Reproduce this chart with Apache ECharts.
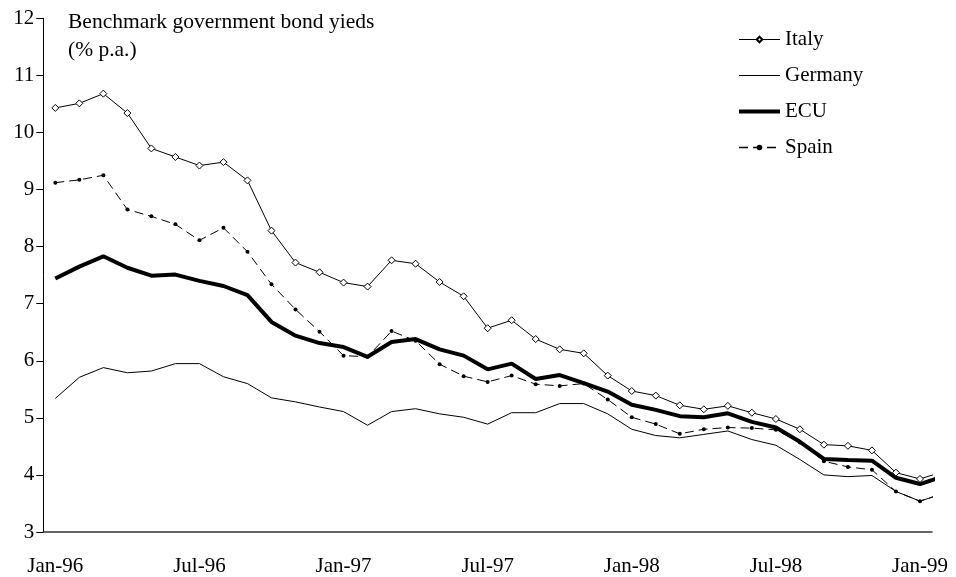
<!DOCTYPE html>
<html>
<head>
<meta charset="utf-8">
<script src="https://cdn.jsdelivr.net/npm/echarts@6/dist/echarts.min.js"></script>
<style>
html,body{margin:0;padding:0;background:#fff;}
#chart{width:956px;height:577px;}
</style>
</head>
<body>
<div id="chart"></div>
<script>
var months = ["Jan-96","Feb-96","Mar-96","Apr-96","May-96","Jun-96","Jul-96","Aug-96","Sep-96","Oct-96","Nov-96","Dec-96",
  "Jan-97","Feb-97","Mar-97","Apr-97","May-97","Jun-97","Jul-97","Aug-97","Sep-97","Oct-97","Nov-97","Dec-97",
  "Jan-98","Feb-98","Mar-98","Apr-98","May-98","Jun-98","Jul-98","Aug-98","Sep-98","Oct-98","Nov-98","Dec-98",
  "Jan-99","Feb-99"];
var italy = [10.43,10.51,10.68,10.34,9.72,9.57,9.42,9.48,9.16,8.28,7.72,7.55,
  7.37,7.30,7.76,7.70,7.38,7.13,6.57,6.71,6.38,6.20,6.13,5.74,
  5.47,5.39,5.22,5.15,5.21,5.09,4.98,4.80,4.53,4.51,4.43,4.04,
  3.93,4.06];
var germany = [5.34,5.71,5.88,5.79,5.82,5.95,5.95,5.72,5.60,5.35,5.28,5.19,
  5.11,4.87,5.11,5.16,5.07,5.01,4.89,5.09,5.09,5.25,5.25,5.07,
  4.80,4.69,4.65,4.71,4.77,4.62,4.52,4.27,4.00,3.97,3.99,3.71,
  3.54,3.68];
var ecu = [7.44,7.65,7.83,7.63,7.49,7.51,7.40,7.31,7.15,6.68,6.44,6.31,
  6.24,6.07,6.33,6.38,6.20,6.09,5.85,5.95,5.68,5.75,5.61,5.46,
  5.23,5.14,5.03,5.01,5.08,4.93,4.83,4.58,4.28,4.26,4.25,3.95,
  3.84,3.98];
var spain = [9.12,9.17,9.25,8.65,8.53,8.39,8.11,8.33,7.91,7.34,6.90,6.51,
  6.09,6.07,6.52,6.35,5.94,5.73,5.63,5.74,5.59,5.56,5.60,5.32,
  5.01,4.89,4.72,4.80,4.83,4.82,4.79,4.57,4.24,4.14,4.09,3.71,
  3.54,3.68];
var yTicks = {min: 3, max: 12, step: 1};
var titleLines = ["Benchmark government bond yieds", "(% p.a.)"];

var FONT = '"Liberation Serif", "Times New Roman", serif';
var chart = echarts.init(document.getElementById('chart'), null, {renderer: 'canvas'});
chart.setOption({
  animation: false,
  backgroundColor: '#ffffff',
  grid: {left: 43.3, right: 24, top: 18.3, bottom: 45, containLabel: false},
  legend: {
    orient: 'vertical',
    left: 737,
    top: 29,
    padding: 0,
    itemWidth: 41,
    itemHeight: 7,
    itemGap: 15,
    textStyle: {fontFamily: FONT, fontSize: 21, color: '#000'},
    data: [
      {name: 'Italy', lineStyle: {width: 1, color: '#000'}},
      {name: 'Germany', lineStyle: {width: 1, color: '#000'}, itemStyle: {opacity: 0}},
      {name: 'ECU', lineStyle: {width: 4, color: '#000'}, itemStyle: {opacity: 0}},
      {name: 'Spain', lineStyle: {width: 1.5, color: '#000', type: [9, 5]}}
    ]
  },
  graphic: [
    {type: 'text', left: 68, top: 11, style: {text: titleLines[0], font: '21.5px ' + FONT, fill: '#000'}},
    {type: 'text', left: 68, top: 39.5, style: {text: titleLines[1], font: '21.5px ' + FONT, fill: '#000'}}
  ],
  xAxis: {
    type: 'category',
    data: months,
    boundaryGap: true,
    max: 36,
    axisLine: {lineStyle: {color: '#333', width: 1.5}},
    axisTick: {interval: 5, length: 6, lineStyle: {color: '#333', width: 1.5}},
    axisLabel: {interval: 5, margin: 24, fontFamily: FONT, fontSize: 21, color: '#000'},
    splitLine: {show: false}
  },
  yAxis: {
    type: 'value',
    min: yTicks.min,
    max: yTicks.max,
    interval: yTicks.step,
    axisLine: {show: true, lineStyle: {color: '#000', width: 1}},
    axisTick: {show: true, length: 7, lineStyle: {color: '#000', width: 1}},
    axisLabel: {margin: 9, fontFamily: FONT, fontSize: 21, color: '#000'},
    splitLine: {show: false}
  },
  series: [
    {name: 'Germany', type: 'line', data: germany, symbol: 'none', z: 2,
      lineStyle: {color: '#000', width: 1}, itemStyle: {color: '#000'}},
    {name: 'ECU', type: 'line', data: ecu, symbol: 'none', z: 3,
      lineStyle: {color: '#000', width: 4}, itemStyle: {color: '#000'}},
    {name: 'Spain', type: 'line', data: spain, symbol: 'circle', symbolSize: 4, z: 4,
      lineStyle: {color: '#000', width: 1, type: [9, 5]}, itemStyle: {color: '#000'}},
    {name: 'Italy', type: 'line', data: italy, symbol: 'diamond', symbolSize: 7, z: 5,
      lineStyle: {color: '#000', width: 1}, itemStyle: {color: '#fff', borderColor: '#000', borderWidth: 1}}
  ]
});
</script>
</body>
</html>
